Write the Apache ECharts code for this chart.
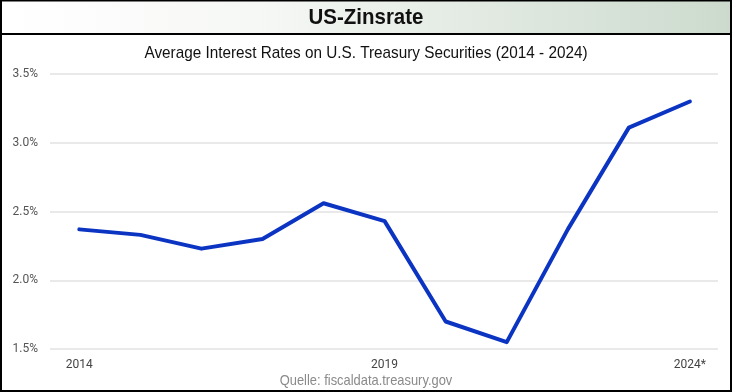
<!DOCTYPE html>
<html>
<head>
<meta charset="utf-8">
<script src="https://cdn.jsdelivr.net/npm/echarts@6/dist/echarts.min.js"></script>
<style>
html,body{margin:0;padding:0;background:#fff;}
#c{width:732px;height:392px;}
</style>
</head>
<body>
<div id="c"></div>
<script>
const years = [2014, 2015, 2016, 2017, 2018, 2019, 2020, 2021, 2022, 2023, 2024];
const rates = [2.37, 2.33, 2.23, 2.30, 2.56, 2.43, 1.70, 1.55, 2.37, 3.11, 3.30];
const xLabelYears = [2014, 2019, 2024];
const yTicks = [1.5, 2.0, 2.5, 3.0, 3.5];
const titleText = 'US-Zinsrate';
const subtitleText = 'Average Interest Rates on U.S. Treasury Securities (2014 - 2024)';
const sourceText = 'Quelle: fiscaldata.treasury.gov';

const FONT = '"Liberation Sans Narrow", "Liberation Sans", Arial, sans-serif';
const chart = echarts.init(document.getElementById('c'), null, {renderer: 'canvas'});
chart.setOption({
  backgroundColor: '#fff',
  animation: false,
  graphic: [
    {type: 'rect', z: 0, shape: {x: 0, y: 0, width: 732, height: 34},
     style: {fill: new echarts.graphic.LinearGradient(0, 0, 1, 0, [
       {offset: 0, color: '#ffffff'}, {offset: 0.35, color: '#f6f8f5'}, {offset: 1, color: '#ccdacd'}])}},
    {type: 'rect', z: 1, shape: {x: 0, y: 33, width: 732, height: 2}, style: {fill: '#000'}},
    {type: 'rect', z: 10, shape: {x: 1, y: 0.5, width: 730, height: 390.5}, style: {fill: null, stroke: '#000', lineWidth: 2}},
    {type: 'text', z: 5, x: 366, y: 18, scaleX: 0.93, style: {text: titleText, font: 'bold 22px ' + FONT, fill: '#111', align: 'center', verticalAlign: 'middle'}},
    {type: 'text', z: 5, x: 366, y: 53, scaleX: 0.9, style: {text: subtitleText, font: '17px ' + FONT, fill: '#111', align: 'center', verticalAlign: 'middle'}},
    {type: 'text', z: 5, x: 366, y: 381, scaleX: 0.86, style: {text: sourceText, font: '15px ' + FONT, fill: '#8a8a8a', align: 'center', verticalAlign: 'middle'}}
  ],
  grid: {left: 50, right: 14, top: 74, bottom: 43},
  xAxis: {
    type: 'value', min: 2013.52, max: 2024.46,
    axisLine: {show: false}, axisTick: {show: false}, splitLine: {show: false},
    axisLabel: {
      customValues: xLabelYears, margin: 10,
      color: '#444', fontSize: 12, fontFamily: 'Roboto, sans-serif',
      formatter: v => (v === 2024 ? v + '*' : String(v))
    }
  },
  yAxis: {
    type: 'value', min: 1.5, max: 3.5, interval: 0.5,
    axisLine: {show: false}, axisTick: {show: false},
    splitLine: {lineStyle: {color: '#e2e2e2', width: 1.5}},
    axisLabel: {margin: 12, color: '#555', fontSize: 12, fontFamily: 'Roboto, sans-serif',
      formatter: v => v.toFixed(1) + '%'}
  },
  series: [{
    type: 'line',
    data: years.map((y, i) => [y, rates[i]]),
    showSymbol: false, symbol: 'none',
    lineStyle: {color: '#0b34c2', width: 4, cap: 'round', join: 'round'}
  }]
});
</script>
</body>
</html>
